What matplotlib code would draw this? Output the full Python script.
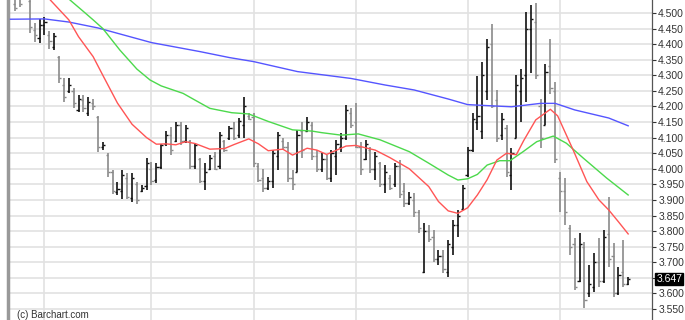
import numpy as np
import matplotlib
matplotlib.use('Agg')
import matplotlib.pyplot as plt

plt.rcParams['font.family'] = ['Liberation Sans', 'DejaVu Sans']

# daily OHLC, one row per session
highs = [4.56, 4.56, 4.58, 4.55, 4.468, 4.48, 4.487, 4.442, 4.436, 4.362,
         4.29, 4.29, 4.26, 4.237, 4.237, 4.23, 4.224, 4.17, 4.086, 4.05,
         3.996, 3.958, 3.996, 3.987, 3.987, 3.958, 3.948, 4.035, 4.022, 4.019,
         4.08, 4.12, 4.134, 4.15, 4.15, 4.14, 4.093, 4.083, 4.035, 4.019,
         4.044, 4.054, 4.118, 4.093, 4.137, 4.15, 4.163, 4.23, 4.18, 4.18,
         4.019, 4.0, 3.974, 4.06, 4.118, 4.10, 4.086, 3.996, 4.124, 4.15,
         4.166, 4.15, 4.06, 4.05, 4.044, 4.06, 4.093, 4.115, 4.205, 4.195,
         4.211, 4.086, 4.093, 4.07, 4.054, 4.022, 4.012, 3.98, 4.019, 4.028,
         3.954, 3.925, 3.922, 3.868, 3.826, 3.82, 3.804, 3.74, 3.74, 3.77,
         3.835, 3.868, 3.948, 4.07, 4.18, 4.298, 4.343, 4.417, 4.465, 4.253,
         4.18, 4.14, 4.067, 4.30, 4.32, 4.503, 4.526, 4.532, 4.224, 4.336,
         4.417, 4.279, 3.99, 3.97, 3.82, 3.778, 3.794, 3.765, 3.69, 3.73,
         3.778, 3.804, 3.91, 3.762, 3.685, 3.772, 3.653]
lows = [4.506, 4.52, 4.545, 4.436, 4.407, 4.404, 4.43, 4.384, 4.381, 4.275,
        4.214, 4.243, 4.195, 4.182, 4.182, 4.17, 4.19, 4.054, 4.06, 3.973,
        3.92, 3.916, 3.903, 3.903, 3.893, 3.887, 3.925, 3.932, 3.948, 3.954,
        4.00, 4.073, 4.044, 4.086, 4.076, 4.083, 4.0, 4.0, 3.954, 3.932,
        3.996, 3.996, 4.0, 4.054, 4.093, 4.093, 4.10, 4.10, 4.156, 4.006,
        3.958, 3.925, 3.932, 3.938, 3.996, 4.06, 3.958, 3.932, 3.99, 4.035,
        4.118, 4.028, 3.99, 3.99, 3.964, 3.958, 3.98, 4.054, 4.093, 4.13,
        4.067, 3.98, 4.028, 3.986, 3.964, 3.942, 3.922, 3.932, 3.942, 3.906,
        3.877, 3.884, 3.845, 3.794, 3.665, 3.765, 3.70, 3.69, 3.665, 3.653,
        3.723, 3.78, 3.868, 3.974, 4.054, 4.124, 4.095, 4.22, 4.195, 4.086,
        4.093, 3.974, 3.932, 4.10, 4.15, 4.214, 4.307, 4.288, 4.067, 4.14,
        4.24, 4.019, 3.862, 3.82, 3.723, 3.611, 3.637, 3.553, 3.588, 3.605,
        3.62, 3.633, 3.685, 3.588, 3.595, 3.62, 3.627]
opens = [4.53, 4.545, 4.56, 4.54, 4.445, 4.42, 4.46, 4.43, 4.39, 4.36,
         4.27, 4.25, 4.25, 4.19, 4.22, 4.18, 4.21, 4.165, 4.07, 4.045,
         3.99, 3.925, 3.93, 3.97, 3.905, 3.95, 3.93, 3.945, 4.00, 3.965,
         4.005, 4.08, 4.11, 4.09, 4.14, 4.09, 4.09, 4.01, 4.03, 3.96,
         4.0, 4.04, 4.01, 4.09, 4.10, 4.13, 4.11, 4.14, 4.17, 4.165,
         4.01, 3.97, 3.94, 3.96, 4.04, 4.09, 4.07, 3.97, 3.99, 4.12,
         4.12, 4.14, 4.04, 4.00, 4.03, 3.97, 4.04, 4.07, 4.10, 4.18,
         4.15, 4.07, 4.03, 4.06, 4.00, 4.02, 3.95, 3.97, 3.95, 4.01,
         3.93, 3.89, 3.90, 3.86, 3.67, 3.80, 3.78, 3.71, 3.72, 3.67,
         3.75, 3.82, 3.87, 3.98, 4.06, 4.15, 4.12, 4.25, 4.40, 4.22,
         4.11, 4.13, 3.98, 4.10, 4.25, 4.30, 4.45, 4.47, 4.20, 4.14,
         4.33, 4.25, 3.97, 3.93, 3.81, 3.76, 3.64, 3.75, 3.60, 3.62,
         3.70, 3.64, 3.79, 3.72, 3.60, 3.67, 3.63]
closes = [4.515, 4.53, 4.55, 4.455, 4.43, 4.46, 4.47, 4.41, 4.425, 4.29,
          4.23, 4.27, 4.21, 4.225, 4.195, 4.215, 4.20, 4.07, 4.075, 3.99,
          3.93, 3.935, 3.98, 3.91, 3.97, 3.90, 3.94, 4.02, 3.96, 4.005,
          4.075, 4.11, 4.06, 4.14, 4.09, 4.13, 4.01, 4.075, 3.96, 3.99,
          4.035, 4.0, 4.11, 4.06, 4.13, 4.10, 4.155, 4.20, 4.16, 4.02,
          3.965, 3.94, 3.96, 4.05, 4.11, 4.07, 3.97, 3.95, 4.11, 4.06,
          4.15, 4.04, 4.00, 4.03, 3.97, 4.05, 4.08, 4.10, 4.19, 4.14,
          4.07, 4.00, 4.08, 4.00, 4.04, 3.95, 3.99, 3.94, 4.01, 3.92,
          3.89, 3.91, 3.86, 3.81, 3.80, 3.775, 3.71, 3.72, 3.68, 3.76,
          3.82, 3.85, 3.94, 4.06, 4.16, 4.17, 4.30, 4.39, 4.20, 4.10,
          4.16, 3.99, 4.05, 4.27, 4.29, 4.45, 4.48, 4.30, 4.10, 4.31,
          4.26, 4.03, 3.93, 3.86, 3.75, 3.62, 3.76, 3.58, 3.63, 3.70,
          3.64, 3.78, 3.71, 3.60, 3.66, 3.63, 3.647]

# moving averages sampled along the chart (bar index, value)
ma_fast_idx = [7, 11, 13, 16, 18, 21, 24, 27, 29, 31, 33, 35, 37, 40, 43, 45,
               48, 50, 52, 55, 57, 60, 62, 64, 68, 70, 74, 77, 81, 85, 87, 89,
               91, 93, 95, 97, 99, 101, 103, 104.5, 107, 110, 111.5, 114.7,
               117.5, 120, 122, 124, 126]
ma_fast = [4.545, 4.478, 4.424, 4.36, 4.30, 4.211, 4.143, 4.10, 4.079, 4.080,
           4.077, 4.087, 4.081, 4.063, 4.065, 4.078, 4.096, 4.080, 4.058,
           4.063, 4.044, 4.066, 4.060, 4.046, 4.073, 4.075, 4.060, 4.036,
           4.000, 3.943, 3.895, 3.865, 3.857, 3.875, 3.916, 3.965, 4.028,
           4.050, 4.045, 4.09, 4.157, 4.191, 4.17, 4.06, 3.959, 3.90, 3.868,
           3.83, 3.791]
ma_mid_idx = [11, 14, 16, 18, 21.5, 25, 27.7, 30, 34.5, 37, 40, 44.5, 48, 52,
              57, 61, 63, 67, 70.5, 75, 81, 85, 89, 91, 93, 95, 97, 99.6,
              101.7, 104.4, 107.2, 110.6, 113.3, 116.8, 121.6, 126]
ma_mid = [4.545, 4.505, 4.478, 4.450, 4.381, 4.32, 4.285, 4.266, 4.242, 4.22,
          4.194, 4.180, 4.176, 4.152, 4.125, 4.121, 4.116, 4.108, 4.112, 4.093,
          4.055, 4.018, 3.980, 3.964, 3.968, 3.982, 4.012, 4.026, 4.026, 4.055,
          4.087, 4.105, 4.082, 4.034, 3.970, 3.916]
ma_slow_idx = [-1, 6, 11, 17, 28, 38, 44, 49, 58, 69, 76, 82, 89, 93, 98, 102,
               108, 111, 115, 122, 126]
ma_slow = [4.480, 4.481, 4.471, 4.452, 4.405, 4.376, 4.357, 4.344, 4.312,
           4.290, 4.269, 4.253, 4.224, 4.206, 4.202, 4.199, 4.210, 4.210,
           4.189, 4.163, 4.138]

month_starts = [6, 28, 49, 70, 93, 112]
price_ticks = [3.55, 3.60, 3.65, 3.70, 3.75, 3.80, 3.85, 3.90, 3.95, 4.00,
               4.05, 4.10, 4.15, 4.20, 4.25, 4.30, 4.35, 4.40, 4.45, 4.50]
last_price = 3.647

fig = plt.figure(figsize=(6.85, 3.2), dpi=100)
ax = fig.add_axes([8 / 685, 0, 644 / 685, 1])

idx = np.arange(len(highs))
o = np.array(opens)
c = np.array(closes)
cols = np.where(c > o, '#111111', '#8a8a8a')

ax.vlines(idx, lows, highs, colors=cols, lw=1.2, zorder=3)
ax.hlines(o, idx - 0.45, idx, colors=cols, lw=1.0, zorder=3)
ax.hlines(c, idx, idx + 0.45, colors=cols, lw=1.0, zorder=3)

ax.plot(ma_slow_idx, ma_slow, color='#5555ff', lw=1.0, zorder=4)
ax.plot(ma_mid_idx, ma_mid, color='#4cd94c', lw=1.0, zorder=4)
ax.plot(ma_fast_idx, ma_fast, color='#ff5555', lw=1.0, zorder=4)

ax.set_xlim(-1.5, 130.9)
ax.set_ylim(3.5148, 4.5417)

# grid
ax.set_xticks(month_starts)
ax.set_yticks(price_ticks)
ax.grid(True, color='#e2e2e2', lw=1.2)
ax.set_axisbelow(True)
ax.tick_params(axis='x', length=0, labelbottom=False)

ax.yaxis.tick_right()
labels = ['%.3f' % t for t in price_ticks]
labels[price_ticks.index(3.65)] = ''
ax.set_yticklabels(labels)
ax.tick_params(axis='y', direction='out', length=3, width=0.8, pad=1.5,
               labelsize=7.5, colors='#333333')

for s in ['top', 'bottom']:
    ax.spines[s].set_visible(False)
ax.spines['left'].set_color('#999999')
ax.spines['left'].set_linewidth(2.5)
ax.spines['right'].set_color('#555555')
ax.spines['right'].set_linewidth(0.9)

# last price box
ax.text(1.007, last_price, '%.3f' % last_price, transform=ax.get_yaxis_transform(),
        ha='left', va='center', fontsize=7.5, color='white', zorder=10,
        bbox=dict(boxstyle='square,pad=0.1', fc='black', ec='black'),
        clip_on=False)

fig.text(17 / 685, 5 / 320, '(c) Barchart.com', fontsize=7, color='#333333',
         ha='left', va='center')

fig.savefig('out.png', dpi=100)
